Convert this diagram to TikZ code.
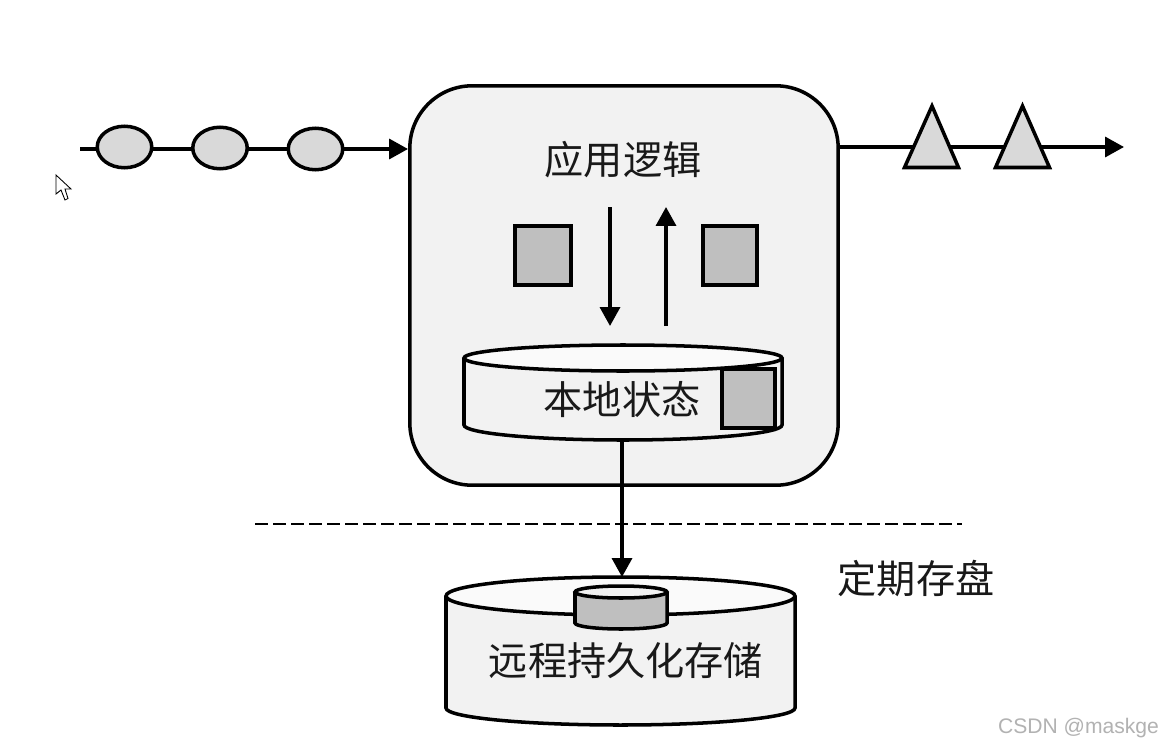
\documentclass[tikz,border=0pt]{standalone}
\usepackage{fontspec}
\setmainfont{Liberation Sans}
\newfontfamily\cjk{Noto Sans CJK SC}
\usetikzlibrary{arrows.meta,shapes.geometric}
\tikzset{
  line/.style={line width=2pt},
  flow/.style={line,-{Triangle[length=0.38cm,width=0.4cm]}},
  token/.style={ellipse,draw,line,fill=black!15,minimum width=1.09cm,minimum height=0.83cm,inner sep=0pt},
  block/.style={rectangle,draw,line,fill=black!25,inner sep=0pt},
  drum/.style={draw,line,fill=black!5},
  label/.style={font=\cjk\fontsize{22.3}{24}\selectfont,text=black!90}
}
\begin{document}
\begin{tikzpicture}[x=0.02cm,y=-0.02cm]
\useasboundingbox (0,0) rectangle (1163,747);
\fill[white] (0,0) rectangle (1163,747);
% stream in and out
\coordinate (src) at (80,149);
\coordinate (dst) at (1124,147);
\node[rectangle,rounded corners=1.25cm,draw,line,fill=black!5,minimum width=8.57cm,minimum height=7.99cm] (task) at (624,285.5) {};
\draw[flow] (src) -- (src -| task.west);
\draw[flow] (dst -| task.east) -- (dst);
\node[token] (e1) at (124.5,147) {};
\node[token] (e2) at (220,148) {};
\node[token] (e3) at (315.5,149) {};
\draw[line,fill=black!15] (904.5,167.5) -- (932,106) -- (958.5,167.5) -- cycle;
\draw[line,fill=black!15] (995.5,167.5) -- (1022.5,106) -- (1049.5,167.5) -- cycle;
% inside the task
\node[label] (logic) at (623,160) {应用逻辑};
\node[block,minimum width=1.13cm,minimum height=1.18cm] (b1) at (543,255.5) {};
\node[block,minimum width=1.08cm,minimum height=1.18cm] (b2) at (730,255.5) {};
\coordinate (d1) at (610,207);
\coordinate (d2) at (610,326);
\coordinate (u1) at (666,326);
\coordinate (u2) at (666,207);
\draw[flow] (d1) -- (d2);
\draw[flow] (u1) -- (u2);
% local state
\draw[drum] (464,358) -- (464,425) arc [start angle=180,end angle=0,x radius=159,y radius=15] -- (782,358);
\draw[line,fill=black!2] (623,358) ellipse [x radius=159,y radius=13];
\coordinate (localout) at (622,440);
\node[block,minimum width=1.07cm,minimum height=1.18cm] (b3) at (748.5,398.5) {};
\node[label] (local) at (622,400) {本地状态};
% dashed line and remote store
\coordinate (c1) at (255,524);
\coordinate (c2) at (962,524);
\draw[line width=1.3pt,dash pattern=on 7.4pt off 2.85pt] (c1) -- (c2);
\node[label] (save) at (916,578) {定期存盘};
\draw[drum] (446,596) -- (446,708) arc [start angle=180,end angle=0,x radius=174.5,y radius=17] -- (795,596);
\draw[line,fill=black!2] (620.5,596) ellipse [x radius=174.5,y radius=19];
\coordinate (remotein) at (622,577);
\draw[flow] (localout) -- (remotein);
\draw[line,fill=black!25] (575,592) -- (575,623) arc [start angle=180,end angle=0,x radius=46,y radius=6] -- (667,592);
\draw[line,fill=black!5] (621,592) ellipse [x radius=46,y radius=6];
\node[label] (remote) at (626,661) {远程持久化存储};
% cursor and watermark
\draw[line width=0.5pt,fill=white] (56,175) -- (56,194) -- (61,190) -- (65,200) -- (68,198.5) -- (65,189) -- (71,189) -- cycle;
\node[text=black!30,font=\fontsize{12}{14}\selectfont,inner sep=0pt] (mark) at (1078.5,728) {CSDN @maskge};
\end{tikzpicture}
\end{document}
